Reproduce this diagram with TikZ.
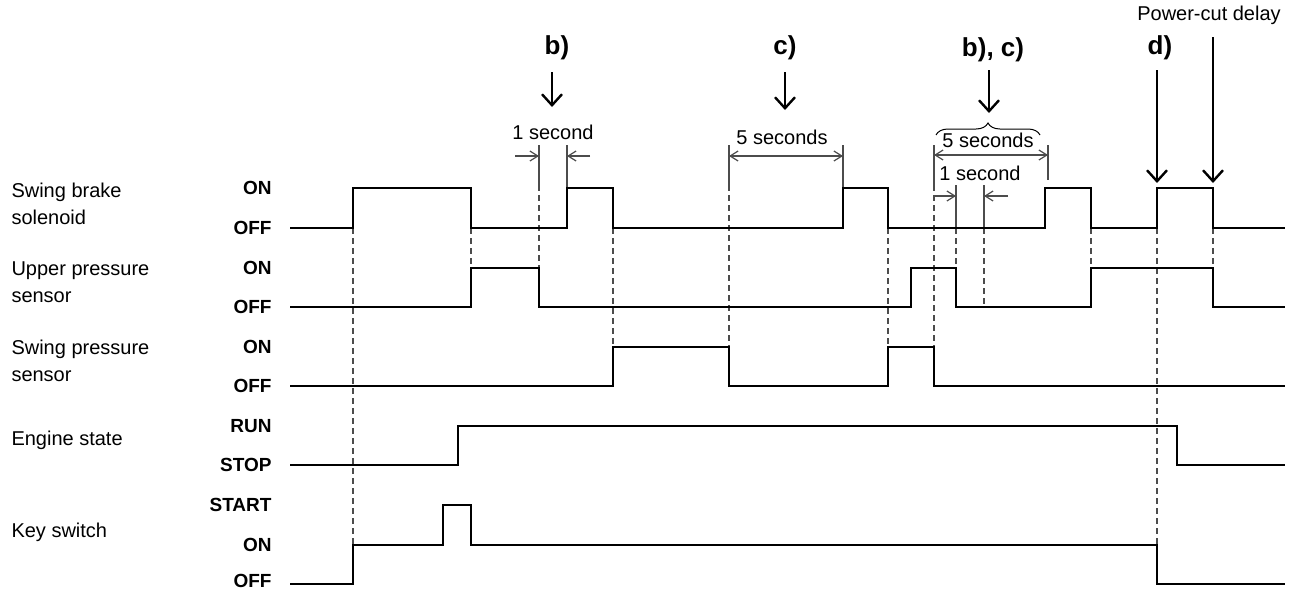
\documentclass[tikz,border=0pt]{standalone}
\usepackage{fontspec}
\setmainfont{Liberation Sans}
\usepackage{tikz}
\usetikzlibrary{arrows.meta}
\usetikzlibrary{decorations.pathreplacing}
\tikzset{every picture/.style={line width=0.5pt},
sig/.style={line width=1.4pt,line join=miter},
guide/.style={black!70,line width=0.6pt,dash pattern=on 3pt off 2pt},
ext/.style={black!70,line width=0.6pt},
dim/.style={black!70,line width=0.6pt,-{Straight Barb[length=4pt,width=5pt]}},
dimboth/.style={black!70,line width=0.6pt,{Straight Barb[length=4pt,width=5pt]}-{Straight Barb[length=4pt,width=5pt]}},
pointer/.style={line width=1.2pt,-{Straight Barb[length=5.5pt,width=10pt]}},
tag/.style={font=\fontsize{13}{15}\selectfont\bfseries,inner sep=0pt},
lvl/.style={font=\fontsize{9.5}{11}\selectfont\bfseries,anchor=east,inner sep=0pt},
sname/.style={font=\fontsize{10}{13.5}\selectfont,anchor=west,align=left,inner sep=0pt},
note/.style={font=\fontsize{10}{12}\selectfont,inner sep=0pt}}

\begin{document}
\begin{tikzpicture}[x=0.5pt,y=-0.5pt]
\useasboundingbox (0,0) rectangle (1290,590);
% signal names
\node[sname] (nbrake) at (11,204) {Swing brake\\solenoid};
\node[sname] (nupper) at (11,282) {Upper pressure\\sensor};
\node[sname] (nswing) at (11,361) {Swing pressure\\sensor};
\node[sname] (nengine) at (11,440) {Engine state};
\node[sname] (nkey) at (11,532) {Key switch};
\foreach \y / \t in {188/ON,228/OFF,268/ON,307/OFF,347/ON,386/OFF,426/RUN,465/STOP,505/START,545/ON,581/OFF} {
\node[lvl] (l\y) at (272,\y) {\t};
}
% guides
\foreach \x / \a / \b in {353/228/545,471/228/268,539/185/268,613/228/347,729/185/347,888/228/347,934/185/347,956/228/268,984/228/307,1091/228/268,1157/228/545,1213/228/268} {
\draw[guide] (\x,\a) -- (\x,\b);
}
\foreach \x / \a / \b in {539/145/185,567/145/188,729/145/185,843/145/188,934/145/185,1048/145/180,956/185/228,984/185/228} {
\draw[ext] (\x,\a) -- (\x,\b);
}
% signals
\draw[sig] (290,228) -- (353,228) |- (471,188) |- (567,228) |- (613,188) |- (843,228) |- (888,188) |- (1045,228) |- (1091,188) |- (1157,228) |- (1213,188) |- (1285,228);
\draw[sig] (290,307) -- (471,307) |- (539,268) |- (911,307) |- (956,268) |- (1091,307) |- (1213,268) |- (1285,307);
\draw[sig] (290,386) -- (613,386) |- (729,347) |- (888,386) |- (934,347) |- (1285,386);
\draw[sig] (290,465) -- (458,465) |- (1177,426) |- (1285,465);
\draw[sig] (290,584) -- (353,584) |- (443,545) |- (471,505) |- (1157,545) |- (1285,584);
% dimensions
\node[note] (sec1) at (553,132) {1 second};
\draw[dim] (515,156) -- (539,156);
\draw[dim] (590,156) -- (567,156);
\node[note] (sec5) at (782,137) {5 seconds};
\draw[dimboth] (729,156) -- (843,156);
\draw[decorate,decoration={brace,amplitude=6pt}] (936,135) -- (1040,135);
\node[note] (sec5b) at (988,140) {5 seconds};
\draw[dimboth] (934,155) -- (1048,155);
\node[note] (sec1b) at (980,173) {1 second};
\draw[dim] (934,196) -- (956,196);
\draw[dim] (1008,196) -- (984,196);
% markers
\node[tag] (tb) at (557,48) {b)};
\node[tag] (tc) at (785,48) {c)};
\node[tag] (tbc) at (993,50) {b), c)};
\node[tag] (td) at (1160,48) {d)};
\node[note] (tpc) at (1209,15) {Power-cut delay};
\draw[pointer] (552,72) -- (552,107);
\draw[pointer] (785,72) -- (785,110);
\draw[pointer] (989,70) -- (989,113);
\draw[pointer] (1157,70) -- (1157,183);
\draw[pointer] (1213,37) -- (1213,183);
\end{tikzpicture}
\end{document}
